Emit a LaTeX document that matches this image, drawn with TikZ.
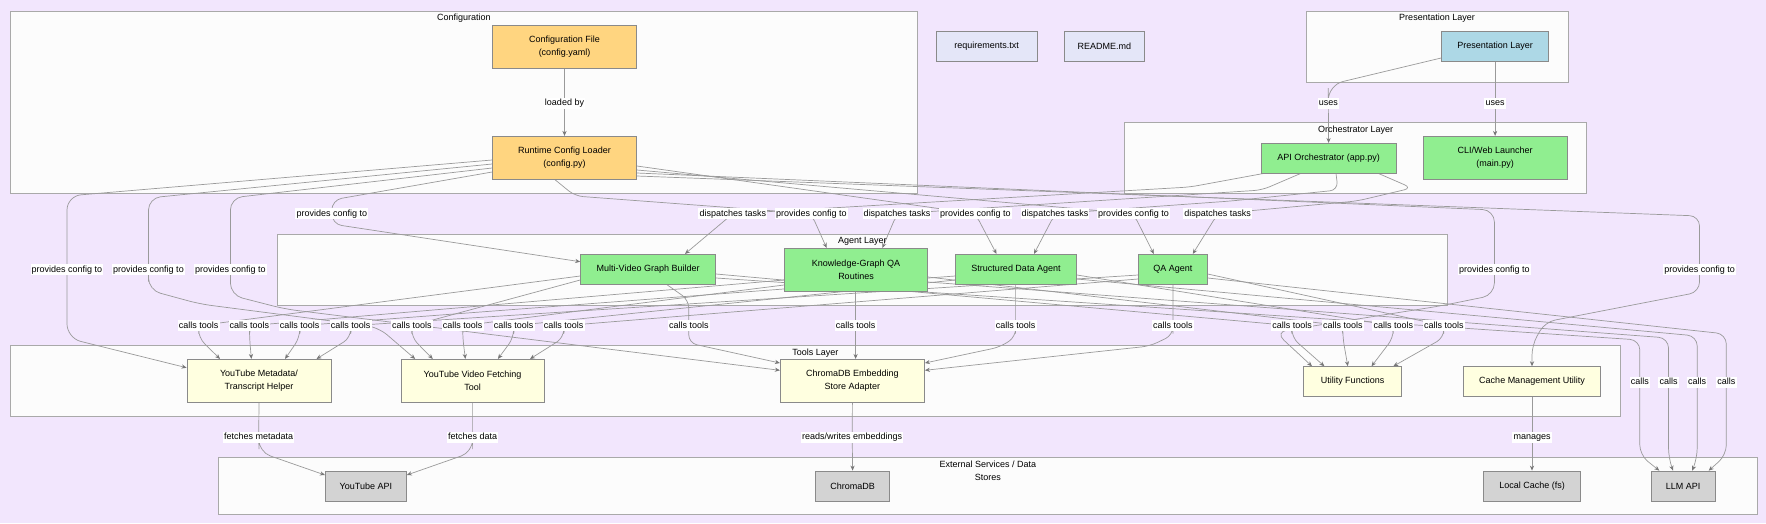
\documentclass[tikz,border=0pt]{standalone}
\usepackage{fontspec}
\setmainfont{Liberation Sans}
\usetikzlibrary{arrows.meta}
\pgfdeclarelayer{bg}
\pgfdeclarelayer{edges}
\pgfsetlayers{bg,edges,main}
\definecolor{bgc}{HTML}{F2E6FD}
\definecolor{clfill}{HTML}{FCFCFC}
\definecolor{clstroke}{HTML}{A9A9A9}
\definecolor{nstroke}{HTML}{8A8A8A}
\definecolor{ecol}{HTML}{9A9A9A}
\definecolor{tipcol}{HTML}{777777}
\definecolor{cfgfill}{HTML}{FFD580}
\definecolor{presfill}{HTML}{ADD8E6}
\definecolor{grfill}{HTML}{90EE90}
\definecolor{ylfill}{HTML}{FFFFE0}
\definecolor{gyfill}{HTML}{D3D3D3}
\definecolor{mifill}{HTML}{E4E6F8}
\begin{document}
\begin{tikzpicture}[x=1pt,y=1pt,font=\fontsize{9}{13}\selectfont,
 cluster/.style={draw=clstroke,fill=clfill,line width=0.8pt},
 clabel/.style={inner sep=0pt,align=center},
 sz/.style 2 args={minimum width=#1,minimum height=#2},
 nbox/.style={draw=nstroke,line width=0.8pt,inner sep=0pt,align=center},
 cfgn/.style={nbox,fill=cfgfill},
 presn/.style={nbox,fill=presfill},
 grn/.style={nbox,fill=grfill},
 tooln/.style={nbox,fill=ylfill},
 extn/.style={nbox,fill=gyfill},
 misn/.style={nbox,fill=mifill},
 conn/.style={draw=ecol,line width=0.7pt,rounded corners=8pt,-{Stealth[length=5pt,width=4.2pt,color=tipcol]}},
 lbl/.style={fill=white,inner xsep=1.2pt,inner ysep=1pt,text height=7pt,text depth=2pt}
]
\useasboundingbox (0,0) rectangle (1766,-523);

% ---------- background and clusters ----------
\begin{pgfonlayer}{bg}
\fill[bgc] (0,0) rectangle (1766,-523);
\draw[cluster] (10.3,-11.7) rectangle (917.3,-193.3);
\draw[cluster] (1306.5,-11.7) rectangle (1568.2,-82);
\draw[cluster] (1124.7,-122.7) rectangle (1586.6,-193.3);
\draw[cluster] (277.5,-234.3) rectangle (1447.3,-305);
\draw[cluster] (10.3,-345.3) rectangle (1620.3,-416.3);
\draw[cluster] (218.5,-457.3) rectangle (1757.3,-514.3);
\end{pgfonlayer}
\node[clabel] (tcfg) at (463.8,-18) {Configuration};
\node[clabel] (tpres) at (1437,-18) {Presentation Layer};
\node[clabel] (torch) at (1355.6,-129.7) {Orchestrator Layer};
\node[clabel] (tagent) at (862.4,-241) {Agent Layer};
\node[clabel] (ttools) at (815.3,-353) {Tools Layer};
\node[clabel] (text) at (987.9,-470.3) {External Services / Data\\Stores};

% ---------- nodes ----------
\node[cfgn,sz={144pt}{43pt}] (cfgfile) at (564.5,-46.8) {Configuration File\\(config.yaml)};
\node[cfgn,sz={144pt}{43pt}] (loader) at (564.5,-157.8) {Runtime Config Loader\\(config.py)};
\node[misn,sz={100.6pt}{29.6pt}] (req) at (986.7,-46.5) {requirements.txt};
\node[misn,sz={80.4pt}{29.6pt}] (readme) at (1104.4,-46.5) {README.md};
\node[presn,sz={107.2pt}{29.6pt}] (pres) at (1495.1,-46.5) {Presentation Layer};
\node[grn,sz={134.7pt}{29.7pt}] (api) at (1328.6,-158.2) {API Orchestrator (app.py)};
\node[grn,sz={143.8pt}{43pt}] (cli) at (1495.1,-157.8) {CLI/Web Launcher\\(main.py)};
\node[grn,sz={135pt}{30pt}] (mvgb) at (648.1,-269.3) {Multi-Video Graph Builder};
\node[grn,sz={143.1pt}{42.7pt}] (kgqa) at (856,-269.7) {Knowledge-Graph QA\\Routines};
\node[grn,sz={121pt}{30pt}] (sda) at (1016,-269.3) {Structured Data Agent};
\node[grn,sz={68.8pt}{30pt}] (qa) at (1172.9,-269.3) {QA Agent};
\node[tooln,sz={144pt}{42.7pt}] (ytm) at (259,-380.7) {YouTube Metadata/\\Transcript Helper};
\node[tooln,sz={143.2pt}{42.7pt}] (ytv) at (472.6,-380.7) {YouTube Video Fetching\\Tool};
\node[tooln,sz={144.2pt}{42.7pt}] (chroma) at (852.4,-380.7) {ChromaDB Embedding\\Store Adapter};
\node[tooln,sz={98.3pt}{29.3pt}] (util) at (1352.5,-381.3) {Utility Functions};
\node[tooln,sz={137.3pt}{29.3pt}] (cache) at (1532,-381.3) {Cache Management Utility};
\node[extn,sz={81.1pt}{30pt}] (ytapi) at (365.9,-486) {YouTube API};
\node[extn,sz={74.2pt}{30pt}] (chromadb) at (852.6,-486) {ChromaDB};
\node[extn,sz={96.9pt}{30pt}] (localcache) at (1532,-486) {Local Cache (fs)};
\node[extn,sz={63.9pt}{30pt}] (llm) at (1683.2,-486) {LLM API};

% ---------- edge labels ----------
\node[lbl] (Lload) at (564.5,-103) {loaded by};
\node[lbl] (Luse1) at (1328.3,-103) {uses};
\node[lbl] (Luse2) at (1495.1,-103) {uses};
\node[lbl] (Lpc1) at (67,-269.7) {provides config to};
\node[lbl] (Lpc2) at (148.5,-269.7) {provides config to};
\node[lbl] (Lpc3) at (230.4,-269.7) {provides config to};
\node[lbl] (Lpc4) at (331.8,-213.7) {provides config to};
\node[lbl] (Lpc5) at (811.3,-213.7) {provides config to};
\node[lbl] (Lpc6) at (975.4,-213.7) {provides config to};
\node[lbl] (Lpc7) at (1133.5,-213.7) {provides config to};
\node[lbl] (Lpc8) at (1494.4,-269.7) {provides config to};
\node[lbl] (Lpc9) at (1699.5,-269.7) {provides config to};
\node[lbl] (Ldt1) at (732.8,-213.7) {dispatches tasks};
\node[lbl] (Ldt2) at (897,-213.7) {dispatches tasks};
\node[lbl] (Ldt3) at (1055,-213.7) {dispatches tasks};
\node[lbl] (Ldt4) at (1217.7,-213.7) {dispatches tasks};
\node[lbl] (Lm1) at (198.6,-325.7) {calls tools};
\node[lbl] (Lm2) at (249.5,-325.7) {calls tools};
\node[lbl] (Lm3) at (299.7,-325.7) {calls tools};
\node[lbl] (Lm4) at (350.6,-325.7) {calls tools};
\node[lbl] (Lv1) at (411.8,-325.7) {calls tools};
\node[lbl] (Lv2) at (462.7,-325.7) {calls tools};
\node[lbl] (Lv3) at (513.6,-325.7) {calls tools};
\node[lbl] (Lv4) at (563.7,-325.7) {calls tools};
\node[lbl] (Lc1) at (688.8,-325.7) {calls tools};
\node[lbl] (Lc2) at (855.6,-325.7) {calls tools};
\node[lbl] (Lc3) at (1015.6,-325.7) {calls tools};
\node[lbl] (Lc4) at (1172.9,-325.7) {calls tools};
\node[lbl] (Lu1) at (1292,-325.7) {calls tools};
\node[lbl] (Lu2) at (1342.8,-325.7) {calls tools};
\node[lbl] (Lu3) at (1393.3,-325.7) {calls tools};
\node[lbl] (Lu4) at (1443.8,-325.7) {calls tools};
\node[lbl] (Ll1) at (1639.8,-382) {calls};
\node[lbl] (Ll2) at (1668.5,-382) {calls};
\node[lbl] (Ll3) at (1697.2,-382) {calls};
\node[lbl] (Ll4) at (1726.3,-382) {calls};
\node[lbl] (Lfm) at (258.7,-437) {fetches metadata};
\node[lbl] (Lfd) at (472.6,-437) {fetches data};
\node[lbl] (Lrw) at (852.2,-437) {reads/writes embeddings};
\node[lbl] (Lman) at (1532,-437) {manages};

% ---------- connectors ----------
\begin{pgfonlayer}{edges}
\draw[conn] (cfgfile.south) -- (Lload.center) -- (loader.north);
\draw[conn,rounded corners=15pt] (pres.west |- 0,-58) -- (1328.3,-85) -- (Luse1.center) -- (api.north);
\draw[conn] (pres.south) -- (Luse2.center) -- (cli.north);
% provides config to
\draw[conn,rounded corners=14pt] (loader.west |- 0,-160) -- (67,-196) -- (Lpc1.center) -- (67,-338) -- (ytm.west |- 0,-367.7);
\draw[conn,rounded corners=12pt] (loader.west |- 0,-164) -- (148.5,-198) -- (Lpc2.center) -- (148.5,-290) -- (200,-304) -- (378,-327) -- (ytv.north -| 415.2,0);
\draw[conn,rounded corners=12pt] (loader.west |- 0,-168) -- (230.4,-198) -- (Lpc3.center) -- (230.4,-295) -- (285,-309) -- (chroma.west |- 0,-370.3);
\draw[conn,rounded corners=10pt] (loader.west |- 0,-172) -- (331.8,-200) -- (331.8,-224) -- (mvgb.west |- 0,-261.7);
\draw[conn] (loader.south -| 555,0) -- (575,-196) -- (Lpc5.center) -- (kgqa.north -| 826.6,0);
\draw[conn] (loader.east |- 0,-166) -- (Lpc6.center) -- (sda.north -| 996.5,0);
\draw[conn] (loader.east |- 0,-170) -- (Lpc7.center) -- (qa.north -| 1153.8,0);
\draw[conn,rounded corners=12pt] (loader.east |- 0,-173) -- (1494.4,-210) -- (Lpc8.center) -- (1494.4,-295) -- (1440,-306) -- (1275,-332) -- (util.north -| 1312,0);
\draw[conn,rounded corners=10pt] (loader.east |- 0,-176) -- (1699.5,-216) -- (Lpc9.center) -- (1699.5,-292) -- (1545,-322) -- (1532,-345) -- (cache.north);
% dispatches tasks
\draw[conn] (api.south -| 1263.6,0) -- (1190,-187) -- (Ldt1.center) -- (mvgb.north -| 685,0);
\draw[conn] (api.south -| 1300.7,0) -- (1262,-190) -- (Ldt2.center) -- (kgqa.north -| 882.4,0);
\draw[conn] (api.south -| 1336,0) -- (1338,-190) -- (1231,-201) -- (Ldt3.center) -- (sda.north -| 1034,0);
\draw[conn] (api.south -| 1378.4,0) -- (1412,-188) -- (1357,-201) -- (Ldt4.center) -- (qa.north -| 1192.8,0);
% calls tools -> YouTube Metadata
\draw[conn] (mvgb.west |- 0,-276) -- (Lm1.center) -- ++(0,-12) -- (ytm.north -| 220,0);
\draw[conn] (kgqa.west |- 0,-280) -- (Lm2.center) -- ++(0,-12) -- (ytm.north -| 251.4,0);
\draw[conn] (sda.west |- 0,-276) -- (Lm3.center) -- ++(0,-12) -- (ytm.north -| 285,0);
\draw[conn] (qa.west |- 0,-275) -- (Lm4.center) -- ++(0,-12) -- (ytm.north -| 316.5,0);
% calls tools -> YouTube Video
\draw[conn] (mvgb.west |- 0,-280) -- (Lv1.center) -- ++(0,-12) -- (ytv.north -| 432.8,0);
\draw[conn] (kgqa.west |- 0,-285) -- (Lv2.center) -- ++(0,-12) -- (ytv.north -| 465.4,0);
\draw[conn] (sda.west |- 0,-280) -- (Lv3.center) -- ++(0,-12) -- (ytv.north -| 497.9,0);
\draw[conn] (qa.west |- 0,-279) -- (Lv4.center) -- ++(0,-12) -- (ytv.north -| 530,0);
% calls tools -> ChromaDB adapter
\draw[conn] (mvgb.south -| 667,0) -- (688.8,-300) -- (Lc1.center) -- (688.8,-343) -- (chroma.west |- 0,-363);
\draw[conn] (kgqa.south -| 855.6,0) -- (Lc2.center) -- (chroma.north -| 855.6,0);
\draw[conn] (sda.south -| 1015.6,0) -- (Lc3.center) -- (1015.6,-337) -- (1000,-347) -- (chroma.east |- 0,-363);
\draw[conn] (qa.south -| 1172.9,0) -- (Lc4.center) -- (1172.9,-335) -- (1150,-346) -- (chroma.east |- 0,-370.3);
% calls tools -> Utility Functions
\draw[conn] (mvgb.east |- 0,-274) -- (Lu1.center) -- ++(0,-12) -- (util.north -| 1324.4,0);
\draw[conn] (kgqa.east |- 0,-277) -- (Lu2.center) -- ++(0,-12) -- (util.north -| 1347.8,0);
\draw[conn] (sda.east |- 0,-275) -- (Lu3.center) -- ++(0,-12) -- (util.north -| 1371.5,0);
\draw[conn] (qa.east |- 0,-274) -- (Lu4.center) -- ++(0,-12) -- (util.north -| 1393.3,0);
% calls -> LLM API
\draw[conn,rounded corners=10pt] (mvgb.east |- 0,-278) -- (Ll1.center |- 0,-340) -- (Ll1.center) -- (1639.8,-455) -- (llm.north -| 1659.3,0);
\draw[conn,rounded corners=10pt] (kgqa.east |- 0,-282) -- (Ll2.center |- 0,-338) -- (Ll2.center) -- (1668.5,-458) -- (llm.north -| 1673,0);
\draw[conn,rounded corners=10pt] (sda.east |- 0,-279) -- (Ll3.center |- 0,-336) -- (Ll3.center) -- (1697.2,-458) -- (llm.north -| 1692.2,0);
\draw[conn,rounded corners=10pt] (qa.east |- 0,-278) -- (Ll4.center |- 0,-334) -- (Ll4.center) -- (1726.3,-455) -- (llm.north -| 1708.7,0);
% tools -> external
\draw[conn,rounded corners=12pt] (ytm.south) -- (Lfm.center) -- (259,-452) -- (ytapi.west |- 0,-475);
\draw[conn,rounded corners=12pt] (ytv.south) -- (Lfd.center) -- (472.6,-452) -- (ytapi.east |- 0,-475);
\draw[conn] (chroma.south) -- (Lrw.center) -- (chromadb.north);
\draw[conn] (cache.south) -- (Lman.center) -- (localcache.north);
\end{pgfonlayer}
\end{tikzpicture}
\end{document}
